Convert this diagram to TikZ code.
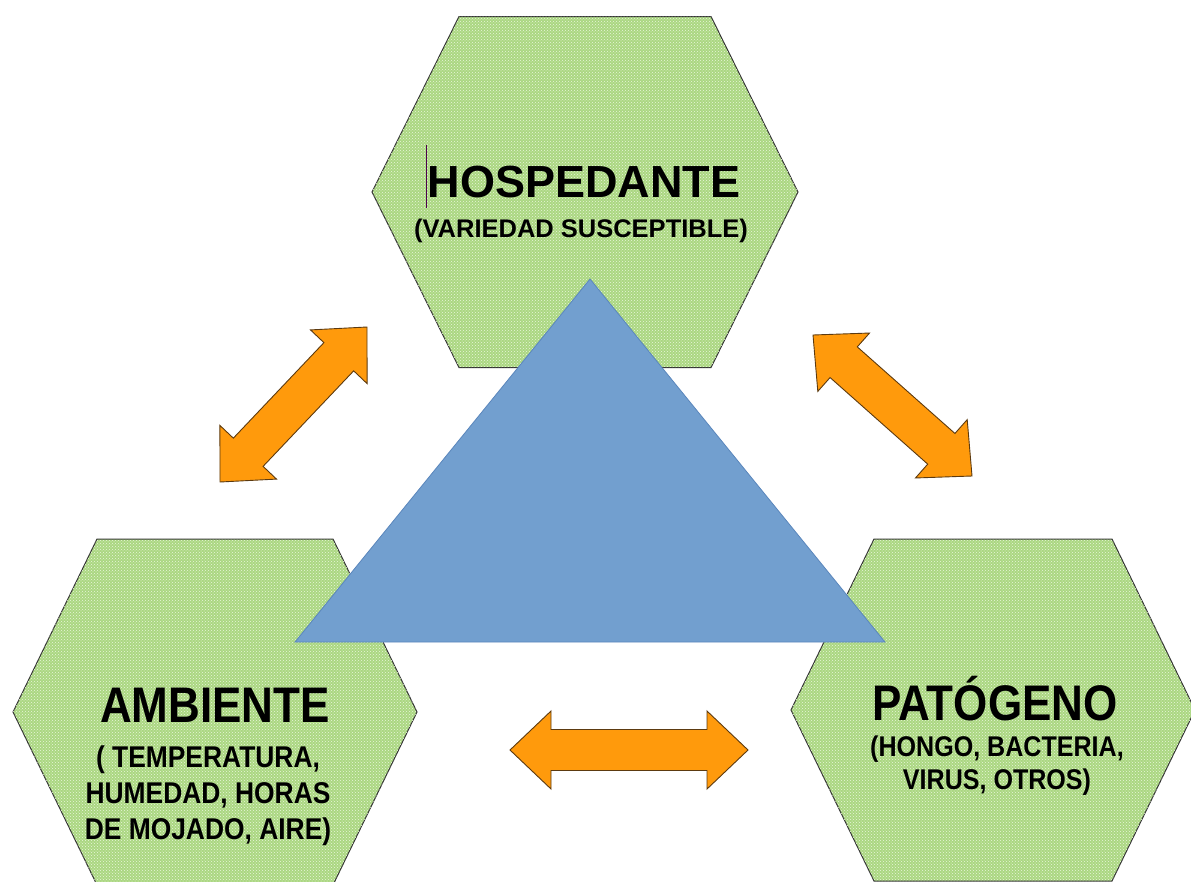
\documentclass[tikz,border=0pt]{standalone}
\usepackage{fontspec}
\setmainfont{Liberation Sans}
\newfontfamily\narrowfont{Liberation Sans}[FakeStretch=0.88]
\usetikzlibrary{calc, patterns}
\definecolor{hexgreen}{HTML}{ABD782}
\definecolor{hexdot}{HTML}{EAF6DC}
\definecolor{triblue}{HTML}{729FCF}
\definecolor{triedge}{HTML}{5A86BC}
\definecolor{arrorange}{HTML}{FF9A0C}
\definecolor{arredge}{HTML}{5C3A10}
\tikzset{
  hexcell/.style={draw=black!80, line width=1pt, fill=hexgreen,
    postaction={pattern=crosshatch dots, pattern color=hexdot}},
  tri/.style={fill=triblue, draw=triedge, line width=0.8pt},
  fatarrow/.style={draw=arredge, line width=0.9pt, fill=arrorange, line join=miter},
  hexlabel/.style={inner sep=0pt, anchor=base},
  hexsub/.style={inner sep=0pt, align=center},
  cursor/.style={draw=violet!60!black, line width=1.5pt}
}
% hexagon: centre x, centre y, half width, half top edge, half height
\newcommand{\hexa}[5]{%
  \path[hexcell] (#1-#3,#2) -- (#1-#4,#2-#5) -- (#1+#4,#2-#5) -- (#1+#3,#2)
    -- (#1+#4,#2+#5) -- (#1-#4,#2+#5) -- cycle;}
% double block arrow between two named tips
\newcommand{\fatarrow}[2]{%
  \coordinate (#1h) at ($(#1)!41pt!(#2)$);
  \coordinate (#2h) at ($(#2)!41pt!(#1)$);
  \draw[fatarrow] (#1) -- ($(#1h)!39pt!90:(#2)$) -- ($(#1h)!20.5pt!90:(#2)$)
    -- ($(#2h)!20.5pt!-90:(#1)$) -- ($(#2h)!39pt!-90:(#1)$) -- (#2)
    -- ($(#2h)!39pt!90:(#1)$) -- ($(#2h)!20.5pt!90:(#1)$)
    -- ($(#1h)!20.5pt!-90:(#2)$) -- ($(#1h)!39pt!-90:(#2)$) -- cycle;}

\begin{document}
\begin{tikzpicture}[x=1pt, y=-1pt]
  \useasboundingbox (0,0) rectangle (1191,881);
  \clip (0,0) rectangle (1191,881);

  % the three cells
  \hexa{585}{192}{213}{126}{175.5}
  \hexa{215}{712}{202}{118}{173}
  \hexa{993}{710}{202}{119}{171}

  % triangle
  \path[tri] (590,279) -- (295,642) -- (885,642) -- cycle;

  % labels
  \node[hexlabel, font=\bfseries\fontsize{45}{54}\selectfont] (hosp) at (584,197) {HOSPEDANTE};
  \node[hexlabel, font=\bfseries\fontsize{25.5}{30}\selectfont] (hosp-sub) at (581,237) {(VARIEDAD SUSCEPTIBLE)};
  \draw[cursor] (hosp.base west) ++(-1,11) -- ++(0,-63);

  \node[hexlabel, font=\narrowfont\bfseries\fontsize{50}{60}\selectfont] (amb) at (215,722) {AMBIENTE};
  \node[hexsub, anchor=north, font=\narrowfont\bfseries\fontsize{30}{36}\selectfont] (amb-sub) at (208,746)
    {( TEMPERATURA,\\HUMEDAD, HORAS\\DE MOJADO, AIRE)};

  \node[hexlabel, font=\narrowfont\bfseries\fontsize{50}{60}\selectfont] (pat) at (995,720) {PATÓGENO};
  \node[hexsub, anchor=north, font=\narrowfont\bfseries\fontsize{28.5}{33}\selectfont] (pat-sub) at (997,736)
    {(HONGO, BACTERIA,\\VIRUS, OTROS)};

  % arrow tips
  \coordinate (amb-up) at (220,482);
  \coordinate (hosp-dl) at (367,327);
  \coordinate (hosp-dr) at (813,335);
  \coordinate (pat-up) at (972,476);
  \coordinate (amb-r) at (510,750);
  \coordinate (pat-l) at (748,750);

  \fatarrow{amb-up}{hosp-dl}
  \fatarrow{hosp-dr}{pat-up}
  \fatarrow{amb-r}{pat-l}
\end{tikzpicture}
\end{document}
